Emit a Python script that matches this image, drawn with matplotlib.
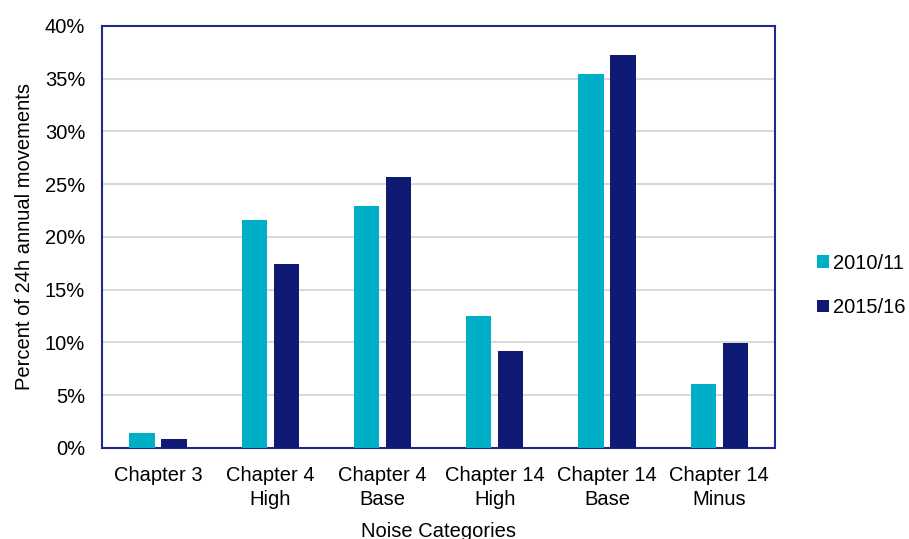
import numpy as np
import matplotlib
matplotlib.use("Agg")
import matplotlib.pyplot as plt
from matplotlib.ticker import PercentFormatter

categories = ["Chapter 3", "Chapter 4\nHigh", "Chapter 4\nBase",
              "Chapter 14\nHigh", "Chapter 14\nBase", "Chapter 14\nMinus"]
series_names = ["2010/11", "2015/16"]
vals_2010 = [1.4, 21.6, 22.9, 12.5, 35.4, 6.1]
vals_2015 = [0.8, 17.4, 25.7, 9.2, 37.2, 9.9]
yticks = [0, 5, 10, 15, 20, 25, 30, 35, 40]

plt.rcParams['font.family'] = ['Liberation Sans', 'DejaVu Sans']

cyan = "#00AEC7"
navy = "#0F1A75"
fs = 14.5

fig = plt.figure(figsize=(9.09, 5.39), dpi=100)
ax = fig.add_axes([0.112, 0.169, 0.741, 0.783])

x = np.arange(len(categories))
w = 0.225
ax.bar(x - 0.143, vals_2010, w, color=cyan, label=series_names[0], zorder=3)
ax.bar(x + 0.143, vals_2015, w, color=navy, label=series_names[1], zorder=3)

ax.set_xlim(-0.5, len(categories) - 0.5)
ax.set_ylim(0, 40)
ax.set_yticks(yticks)
ax.yaxis.set_major_formatter(PercentFormatter(decimals=0))
ax.set_xticks(x)
ax.set_xticklabels(categories, fontsize=fs, linespacing=1.35)
ax.tick_params(axis='y', labelsize=fs, length=0, pad=12)
ax.tick_params(axis='x', length=0, pad=13)
ax.grid(axis='y', color='#D9D9D9', linewidth=1.5, zorder=0)

for s in ax.spines.values():
    s.set_color('#1F2A8A')
    s.set_linewidth(1.5)

ax.set_ylabel("Percent of 24h annual movements", fontsize=fs, labelpad=8)
ax.set_xlabel("Noise Categories", fontsize=fs, labelpad=9)

ax.legend(loc='center left', bbox_to_anchor=(1.035, 0.385), frameon=False,
          fontsize=fs, handlelength=0.6, handleheight=0.6,
          handletextpad=0.2, labelspacing=1.25)

fig.savefig("out.png", dpi=100)
